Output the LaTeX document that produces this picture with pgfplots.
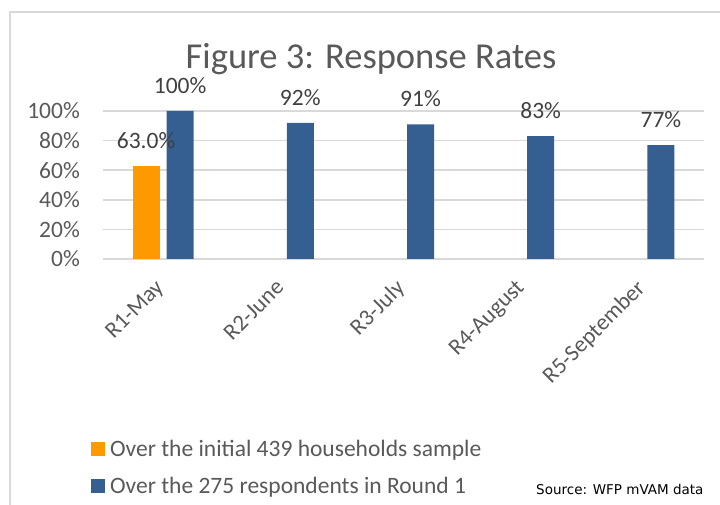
\documentclass[border=0pt]{standalone}
\usepackage{pgfplots}
\pgfplotsset{compat=1.18}
\usepackage{fontspec}
\setmainfont{Carlito}
\newfontfamily\srcfont{DejaVu Sans}
\definecolor{barorange}{HTML}{FF9900}
\definecolor{barblue}{HTML}{365F91}
\definecolor{gridgray}{HTML}{D9D9D9}
\definecolor{textgray}{HTML}{595959}
\definecolor{labelgray}{HTML}{404040}

\begin{document}
\begin{tikzpicture}
\path[use as bounding box] (0,0) rectangle (720pt,505pt);
\draw[gridgray, line width=1.5pt] (10pt,-2pt) -- (10pt,493pt) -- (722pt,493pt);
\node[anchor=base, text=textgray, font=\fontsize{36.5}{42}\selectfont] at (371pt,436pt) {Figure 3: Response Rates};
\node[anchor=base east, text=black, font=\srcfont\fontsize{13.5}{16}\selectfont] at (707pt,10pt) {Source: WFP mVAM data};

\begin{axis}[
    at={(103pt,246pt)}, anchor=south west,
    scale only axis, width=601pt, height=148pt,
    xmin=-0.5, xmax=4.5, ymin=0, ymax=100,
    ybar=7pt, bar width=27pt,
    clip=false,
    /pgf/number format/assume math mode=true,
    axis line style={draw=none}, major tick length=0pt,
    ymajorgrids, grid style={gridgray, line width=1.5pt},
    ytick={0,20,...,100},
    yticklabel={\pgfmathprintnumber{\tick}\%},
    yticklabel style={inner sep=0pt, xshift=-23pt, text=textgray, font=\fontsize{23.5}{28}\selectfont},
    xtick={0,...,4},
    xticklabels={R1-May,R2-June,R3-July,R4-August,R5-September},
    xticklabel style={yshift=-19pt, xshift=-9pt, rotate=45, anchor=north east, inner sep=0pt, text=textgray, font=\fontsize{23}{28}\selectfont},
    every node near coord/.append style={inner sep=0pt, yshift=17pt, text=labelgray, font=\fontsize{23.5}{28}\selectfont},
    legend style={at={(axis description cs:-0.025,-1.21)}, anchor=north west, draw=none, fill=none,
        font=\fontsize{23.5}{28}\selectfont, text=textgray, row sep=19pt, nodes={inner sep=0pt},
        /tikz/every odd column/.append style={column sep=5pt}},
    legend cell align=left,
]
% over the initial sample
\addplot[fill=barorange, draw=none,
    nodes near coords={\pgfmathprintnumber[fixed,fixed zerofill,precision=1]{\pgfplotspointmeta}\%},
    legend image code/.code={\fill[barorange] (0pt,-7pt) rectangle (14pt,7pt);}]
    coordinates {(0,63)};
\addlegendentry{Over the initial 439 households sample}

% over round 1 respondents
\addplot[fill=barblue, draw=none,
    nodes near coords={\pgfmathprintnumber[fixed,precision=0]{\pgfplotspointmeta}\%},
    legend image code/.code={\fill[barblue] (0pt,-7pt) rectangle (14pt,7pt);}]
    coordinates {(0,100) (1,92) (2,91) (3,83) (4,77)};
\addlegendentry{Over the 275 respondents in Round 1}
\end{axis}
\end{tikzpicture}
\end{document}
